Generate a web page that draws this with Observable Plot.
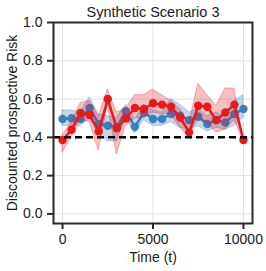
<!DOCTYPE html>
<html><head><meta charset="utf-8">
<script src="https://cdn.jsdelivr.net/npm/d3@7"></script>
<script src="https://cdn.jsdelivr.net/npm/@observablehq/plot@0.6"></script>
<style>body{margin:0;background:#fff} svg{display:block}</style>
</head><body><div id="chart"></div>
<script>
const times = [0,500,1000,1500,2000,2500,3000,3500,4000,4500,5000,5500,6000,6500,7000,7500,8000,8500,9000,9500,10000];
const redMean = [0.386,0.44,0.527,0.517,0.431,0.60,0.447,0.50,0.553,0.548,0.578,0.571,0.56,0.504,0.426,0.565,0.56,0.49,0.53,0.571,0.386];
const redLo   = [0.32,0.40,0.49,0.48,0.33,0.565,0.31,0.46,0.50,0.50,0.53,0.52,0.52,0.45,0.40,0.50,0.47,0.426,0.44,0.49,0.38];
const redHi   = [0.41,0.48,0.58,0.59,0.51,0.65,0.53,0.55,0.62,0.62,0.65,0.62,0.59,0.55,0.47,0.68,0.62,0.565,0.655,0.655,0.39];
const blueMean = [0.496,0.50,0.496,0.553,0.47,0.461,0.455,0.536,0.455,0.53,0.496,0.496,0.522,0.513,0.49,0.508,0.47,0.49,0.478,0.522,0.548];
const blueLo   = [0.46,0.46,0.46,0.50,0.42,0.38,0.38,0.50,0.42,0.49,0.46,0.46,0.48,0.45,0.44,0.46,0.43,0.45,0.44,0.46,0.50];
const blueHi   = [0.54,0.54,0.53,0.61,0.52,0.51,0.50,0.57,0.49,0.57,0.54,0.53,0.60,0.57,0.53,0.55,0.51,0.53,0.51,0.59,0.62];
const xTicks = [0,5000,10000];
const yTicks = [0,0.2,0.4,0.6,0.8,1.0];
const threshold = [0.4];
const titleText = "Synthetic Scenario 3";
const xLabel = "Time (t)";
const yLabel = "Discounted prospective Risk";

const rows = times.map((t,i)=>({t, r:redMean[i], rLo:redLo[i], rHi:redHi[i], b:blueMean[i], bLo:blueLo[i], bHi:blueHi[i]}));
const RED = "#e41a1c", BLUE = "#3a7fc0";

const chart = Plot.plot({
  width:266, height:271, marginLeft:53, marginRight:14, marginTop:22, marginBottom:48,
  style:{fontFamily:"'Liberation Sans', Arial, sans-serif", fontSize:"14px", color:"#1a1a1a", background:"#fff"},
  x:{domain:[-500,10500]},
  y:{domain:[-0.05,1.0]},
  marks:[
    Plot.gridX(xTicks,{stroke:"#e3e3e3", strokeOpacity:1, strokeWidth:1}),
    Plot.gridY(yTicks,{stroke:"#e3e3e3", strokeOpacity:1, strokeWidth:1}),
    Plot.areaY(rows,{x:"t", y1:"bLo", y2:"bHi", fill:BLUE, fillOpacity:0.3, stroke:BLUE, strokeOpacity:0.35, strokeWidth:1}),
    Plot.line(rows,{x:"t", y:"b", stroke:BLUE, strokeWidth:2.5}),
    Plot.dot(rows,{x:"t", y:"b", fill:BLUE, r:4.2}),
    Plot.areaY(rows,{x:"t", y1:"rLo", y2:"rHi", fill:RED, fillOpacity:0.28, stroke:RED, strokeOpacity:0.3, strokeWidth:1}),
    Plot.line(rows,{x:"t", y:"r", stroke:RED, strokeWidth:2.5}),
    Plot.dot(rows,{x:"t", y:"r", fill:RED, r:4.2}),
    Plot.ruleY(threshold,{stroke:"#000", strokeWidth:2.5, strokeDasharray:"7,4"}),
    Plot.frame({stroke:"#2a2a2a", strokeWidth:2}),
    Plot.axisX(xTicks,{tickSize:6, tickPadding:5, tickFormat:d=>String(d), fontSize:14, label:null, stroke:"#2a2a2a", strokeWidth:2, fill:"#1a1a1a"}),
    Plot.axisY(yTicks,{tickSize:6, tickPadding:5, tickFormat:d3.format(".1f"), fontSize:14, label:null, stroke:"#2a2a2a", strokeWidth:2, fill:"#1a1a1a"}),
    Plot.text([titleText],{frameAnchor:"top", dy:-10, lineAnchor:"middle", textAnchor:"middle", fontSize:14.5, fill:"#1a1a1a"}),
    Plot.text([xLabel],{frameAnchor:"bottom", dy:34, lineAnchor:"middle", textAnchor:"middle", fontSize:14, fill:"#1a1a1a"}),
    Plot.text([yLabel],{frameAnchor:"left", dx:-41, rotate:-90, lineAnchor:"middle", textAnchor:"middle", fontSize:14, fill:"#1a1a1a"})
  ]
});
document.getElementById("chart").append(chart);
</script>
</body></html>
